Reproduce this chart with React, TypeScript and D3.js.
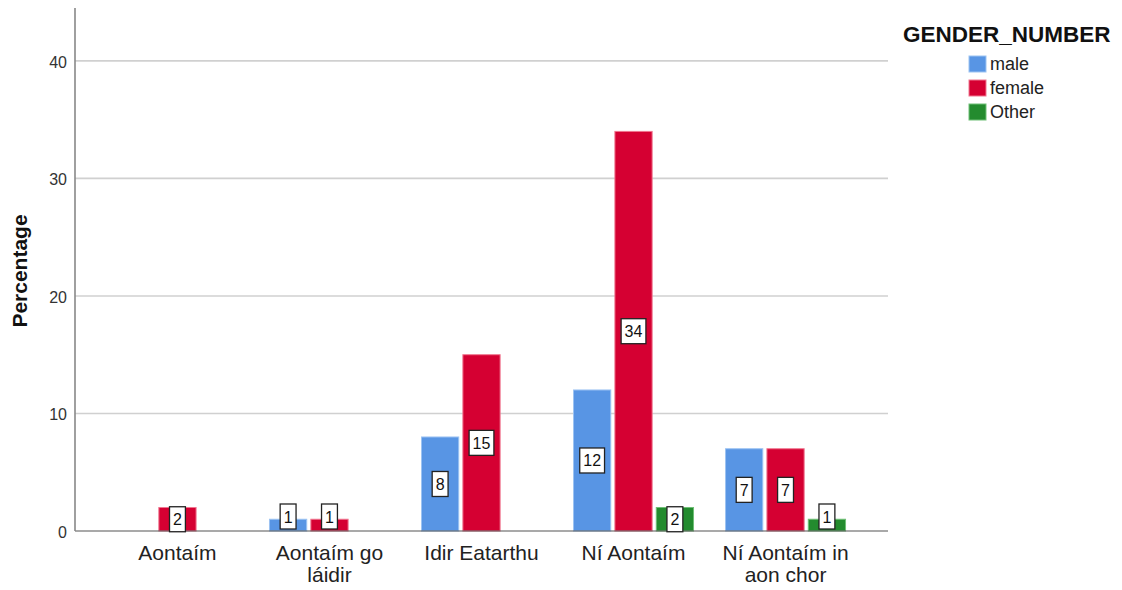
import React from "react";
import * as d3 from "d3";

const categories = ["Aontaím", "Aontaím go\nláidir", "Idir Eatarthu", "Ní Aontaím", "Ní Aontaím in\naon chor"];
const seriesNames = ["male", "female", "Other"];
const maleValues: (number | null)[] = [null, 1, 8, 12, 7];
const femaleValues: (number | null)[] = [2, 1, 15, 34, 7];
const otherValues: (number | null)[] = [null, null, null, 2, 1];
const yTicks = [0, 10, 20, 30, 40];
const colors = ["#5895E4", "#D50032", "#238B2E"];
const strokeColors = ["#9cc3f2", "#f0768f", "#6fbf76"];

const W = 1122, H = 590;
const left = 75, right = 888, top = 8, bottom = 531;
const FONT = "'Liberation Sans', Arial, sans-serif";

export default function App() {
  const series = [maleValues, femaleValues, otherValues];
  const x0 = d3.scalePoint<string>().domain(categories).range([left, right]).padding(0.674);
  const x1 = d3.scaleBand<string>().domain(seriesNames).range([-60, 60]).paddingInner(0.1);
  const y = d3.scaleLinear().domain([0, 44.5]).range([bottom, top]);

  const bars: JSX.Element[] = [];
  const labels: JSX.Element[] = [];
  categories.forEach((c, ci) => {
    series.forEach((vals, si) => {
      const v = vals[ci];
      if (v == null) return;
      const bx = (x0(c) as number) + (x1(seriesNames[si]) as number);
      const bw = x1.bandwidth();
      bars.push(
        <rect key={`b${ci}-${si}`} x={bx} y={y(v)} width={bw} height={y(0) - y(v)}
          fill={colors[si]} stroke={strokeColors[si]} strokeWidth={1} />
      );
      const txt = String(v);
      const tw = txt.length * 8.9 + 7;
      const th = 25;
      const mid = y(v / 2);
      const cy = y(0) - mid < 7 ? y(0) - 14.5 : mid;
      const cx = bx + bw / 2;
      labels.push(
        <g key={`l${ci}-${si}`}>
          <rect x={cx - tw / 2} y={cy - th / 2} width={tw} height={th} fill="#fff" stroke="#222" strokeWidth={1.3} />
          <text x={cx} y={cy + 6} textAnchor="middle" fontSize={16} fontFamily={FONT} fill="#111">{txt}</text>
        </g>
      );
    });
  });

  return (
    <svg width={W} height={H} style={{ position: "absolute", left: 0, top: 0, background: "#fff" }}>
      {yTicks.filter(t => t > 0).map(t => (
        <line key={`g${t}`} x1={left} x2={right} y1={y(t)} y2={y(t)} stroke="#d0d0d0" strokeWidth={1.6} />
      ))}
      {yTicks.map(t => (
        <text key={`t${t}`} x={67} y={y(t) + 7} textAnchor="end" fontSize={16} fontFamily={FONT} fill="#333">{t}</text>
      ))}
      {bars}
      <line x1={left} x2={right} y1={bottom} y2={bottom} stroke="#555" strokeWidth={1.2} />
      <line x1={left} x2={left} y1={top} y2={bottom} stroke="#888" strokeWidth={1.6} />
      {labels}
      {categories.map(c => {
        const lines = c.split("\n");
        return (
          <text key={`x${c}`} textAnchor="middle" fontSize={21} fontFamily={FONT} fill="#222">
            {lines.map((ln, i) => (
              <tspan key={i} x={x0(c) as number} y={560 + i * 21.5}>{ln}</tspan>
            ))}
          </text>
        );
      })}
      <text transform="translate(27,271) rotate(-90)" textAnchor="middle" fontSize={21} fontWeight="bold" fontFamily={FONT} fill="#111">Percentage</text>
      <text x={903} y={42} fontSize={22.5} fontWeight="bold" fontFamily={FONT} fill="#111">GENDER_NUMBER</text>
      {seriesNames.map((s, i) => (
        <g key={`lg${s}`}>
          <rect x={969} y={56 + i * 24} width={17} height={16} fill={colors[i]} stroke={strokeColors[i]} strokeWidth={1} />
          <text x={990} y={70 + i * 24} fontSize={18} fontFamily={FONT} fill="#222">{s}</text>
        </g>
      ))}
    </svg>
  );
}
